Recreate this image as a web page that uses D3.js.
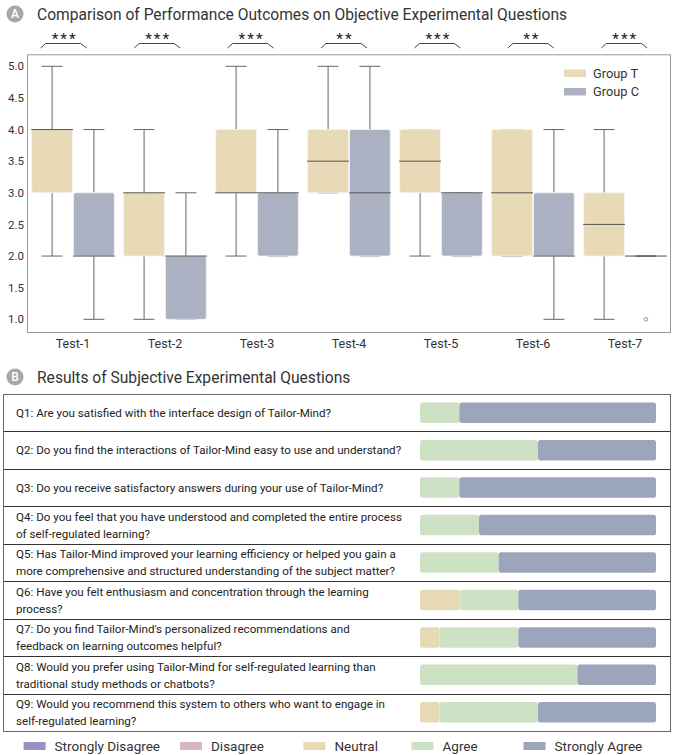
<!DOCTYPE html>
<html>
<head>
<meta charset="utf-8">
<script src="https://cdn.jsdelivr.net/npm/d3@7"></script>
<style>
  body { margin: 0; background: #fff; }
  svg { display: block; font-family: Roboto, "Noto Sans", sans-serif; }
</style>
</head>
<body>
<svg id="chart" width="673" height="755"></svg>
<script>
// ---- Objective questions: scores per test (1–5) ----
const tests = ["Test-1", "Test-2", "Test-3", "Test-4", "Test-5", "Test-6", "Test-7"];
const groups = ["Group T", "Group C"];
// five-number summaries: [lower whisker, Q1, median, Q3, upper whisker]
const groupT = [
  [2, 3, 4, 4, 5],
  [1, 2, 3, 3, 4],
  [2, 3, 3, 4, 5],
  [3, 3, 3.5, 4, 5],
  [2, 3, 3.5, 4, 4],
  [2, 2, 3, 4, 4],
  [1, 2, 2.5, 3, 4]
];
const groupC = [
  [1, 2, 2, 3, 4],
  [1, 1, 2, 2, 3],
  [2, 2, 3, 3, 4],
  [2, 2, 3, 4, 5],
  [2, 2, 3, 3, 3],
  [1, 2, 2, 3, 4],
  [2, 2, 2, 2, 2]
];
const outliersT = [[], [], [], [], [], [], []];
const outliersC = [[], [], [], [], [], [], [1]];
const significance = ["***", "***", "***", "**", "***", "**", "***"];
const yTicks = [1.0, 1.5, 2.0, 2.5, 3.0, 3.5, 4.0, 4.5, 5.0];

// ---- Subjective questions: response counts (12 participants) ----
const questions = [
  ["Q1: Are you satisfied with the interface design of Tailor-Mind?"],
  ["Q2: Do you find the interactions of Tailor-Mind easy to use and understand?"],
  ["Q3: Do you receive satisfactory answers during your use of Tailor-Mind?"],
  ["Q4: Do you feel that you have understood and completed the entire process",
   "of self-regulated learning?"],
  ["Q5: Has Tailor-Mind improved your learning efficiency or helped you gain a",
   "more comprehensive and structured understanding of the subject matter?"],
  ["Q6: Have you felt enthusiasm and concentration through the learning",
   "process?"],
  ["Q7: Do you find Tailor-Mind's personalized recommendations and",
   "feedback on learning outcomes helpful?"],
  ["Q8: Would you prefer using Tailor-Mind for self-regulated learning than",
   "traditional study methods or chatbots?"],
  ["Q9: Would you recommend this system to others who want to engage in",
   "self-regulated learning?"]
];
const responseLevels = ["Strongly Disagree", "Disagree", "Neutral", "Agree", "Strongly Agree"];
const stronglyDisagree = [0, 0, 0, 0, 0, 0, 0, 0, 0];
const disagree         = [0, 0, 0, 0, 0, 0, 0, 0, 0];
const neutral          = [0, 0, 0, 0, 0, 2, 1, 0, 1];
const agree            = [2, 6, 2, 3, 4, 3, 4, 8, 5];
const stronglyAgree    = [10, 6, 10, 9, 8, 7, 7, 4, 6];

// ---- styling ----
const groupColor = { "Group T": "#e8dab6", "Group C": "#abb1c3" };
const levelColor = {
  "Strongly Disagree": "#9b8fc1",
  "Disagree": "#d8b5bc",
  "Neutral": "#e8d9b5",
  "Agree": "#cde2c4",
  "Strongly Agree": "#9ba6bc"
};
const ink = "#333";
const lineGray = "#666";

const svg = d3.select("#chart");

function badge(g, cx, cy, letter) {
  g.append("circle").attr("cx", cx).attr("cy", cy).attr("r", 8.5).attr("fill", "#a8a8a8");
  g.append("text").attr("x", cx).attr("y", cy).attr("dy", "0.36em")
    .attr("text-anchor", "middle").attr("fill", "#fff")
    .attr("font-size", 12).attr("font-weight", 500).text(letter);
}

// ================= Panel A: box plots =================
const A = svg.append("g");
badge(A, 15, 14, "A");
A.append("text").attr("x", 37).attr("y", 14).attr("dy", "0.36em")
  .attr("font-size", 15.6).attr("fill", ink)
  .text("Comparison of Performance Outcomes on Objective Experimental Questions");

const frame = { left: 27, right: 671, top: 54.3, bottom: 332 };
const x = d3.scaleBand().domain(tests).range([frame.left, frame.right]).paddingInner(0).paddingOuter(0);
const xg = d3.scaleBand().domain(groups).range([0, x.bandwidth()]).paddingInner(0).paddingOuter(0.1);
const y = d3.scaleLinear().domain([1, 5]).range([319.3, 66.3]);

// frame
A.append("rect")
  .attr("x", frame.left + 0.5).attr("y", frame.top + 0.5)
  .attr("width", frame.right - frame.left - 1).attr("height", frame.bottom - frame.top)
  .attr("fill", "none").attr("stroke", "#999").attr("stroke-width", 1);

// axes
const yAxis = d3.axisLeft(y).tickValues(yTicks).tickFormat(d3.format(".1f")).tickSize(0).tickPadding(3);
A.append("g").attr("transform", `translate(${frame.left},0)`).call(yAxis)
  .call(g => g.select(".domain").remove())
  .call(g => g.selectAll("text").attr("font-size", 11.5).attr("fill", ink).attr("font-family", "Roboto, sans-serif"));

const xAxis = d3.axisBottom(x).tickSize(0).tickPadding(7);
A.append("g").attr("transform", `translate(0,${frame.bottom})`).call(xAxis)
  .call(g => g.select(".domain").remove())
  .call(g => g.selectAll("text").attr("font-size", 12.5).attr("fill", ink).attr("font-family", "Roboto, sans-serif"));

// boxes
const boxData = [];
tests.forEach((t, i) => {
  boxData.push({ test: t, group: "Group T", s: groupT[i], out: outliersT[i] });
  boxData.push({ test: t, group: "Group C", s: groupC[i], out: outliersC[i] });
});
const bw = xg.bandwidth();
const boxes = A.append("g").selectAll("g").data(boxData).join("g")
  .attr("transform", d => `translate(${x(d.test) + xg(d.group)},0)`);

// whiskers
boxes.append("line")
  .attr("x1", bw / 2).attr("x2", bw / 2)
  .attr("y1", d => y(d.s[3])).attr("y2", d => y(d.s[4]))
  .attr("stroke", lineGray).attr("stroke-width", 1);
boxes.append("line")
  .attr("x1", bw / 2).attr("x2", bw / 2)
  .attr("y1", d => y(d.s[1])).attr("y2", d => y(d.s[0]))
  .attr("stroke", lineGray).attr("stroke-width", 1);
// caps
boxes.selectAll(".cap").data(d => [d.s[0], d.s[4]]).join("line").attr("class", "cap")
  .attr("x1", bw * 0.25).attr("x2", bw * 0.75)
  .attr("y1", v => y(v)).attr("y2", v => y(v))
  .attr("stroke", lineGray).attr("stroke-width", 1);
// box body
boxes.filter(d => d.s[3] > d.s[1]).append("rect")
  .attr("x", 0.5).attr("width", bw - 1)
  .attr("y", d => y(d.s[3])).attr("height", d => y(d.s[1]) - y(d.s[3]))
  .attr("rx", 2)
  .attr("fill", d => groupColor[d.group])
  .attr("stroke", "#f4f4f4").attr("stroke-width", 0.8);
// median
boxes.append("line")
  .attr("x1", 0).attr("x2", bw)
  .attr("y1", d => y(d.s[2])).attr("y2", d => y(d.s[2]))
  .attr("stroke", "#555").attr("stroke-width", 1);
// outliers
boxes.selectAll(".flier").data(d => d.out).join("circle").attr("class", "flier")
  .attr("cx", bw / 2).attr("cy", v => y(v)).attr("r", 1.8)
  .attr("fill", "none").attr("stroke", "#777").attr("stroke-width", 0.8);

// legend (Panel A)
const legA = A.append("g").selectAll("g").data(groups).join("g")
  .attr("transform", (d, i) => `translate(564,${69.5 + i * 18.5})`);
legA.append("rect").attr("width", 22).attr("height", 7.5).attr("fill", d => groupColor[d]);
legA.append("text").attr("x", 29).attr("y", 3.75).attr("dy", "0.36em")
  .attr("font-size", 12.8).attr("fill", ink).text(d => d);

// significance brackets
const xs = d3.scaleBand().domain(tests).range([17, 671]);
const sig = A.append("g").selectAll("g").data(tests).join("g")
  .attr("transform", d => `translate(${xs(d) + xs.bandwidth() / 2},0)`);
sig.append("path")
  .attr("d", "M-23,48L-18,43.5L17,43.5L23,48")
  .attr("fill", "none").attr("stroke", "#444").attr("stroke-width", 1);
sig.append("text")
  .attr("x", 1).attr("y", 44).attr("text-anchor", "middle")
  .attr("font-size", 15.5).attr("letter-spacing", 2).attr("fill", "#222")
  .text((d, i) => significance[i]);

// ================= Panel B: stacked response bars =================
const B = svg.append("g");
badge(B, 15, 377, "B");
B.append("text").attr("x", 37).attr("y", 377).attr("dy", "0.36em")
  .attr("font-size", 15.6).attr("fill", ink)
  .text("Results of Subjective Experimental Questions");

const table = { left: 3.5, right: 671, top: 394, bottom: 731 };
const rows = d3.scaleBand().domain(d3.range(questions.length)).range([table.top, table.bottom]);
const xb = d3.scaleLinear().domain([0, 12]).range([420, 656]);

// row separators
B.append("g").selectAll("line").data(d3.range(1, questions.length)).join("line")
  .attr("x1", table.left).attr("x2", table.right)
  .attr("y1", i => Math.round(rows(i)) + 0.5).attr("y2", i => Math.round(rows(i)) + 0.5)
  .attr("stroke", "#333").attr("stroke-width", 1);
B.append("rect")
  .attr("x", table.left).attr("y", table.top + 0.5)
  .attr("width", table.right - table.left - 0.5).attr("height", table.bottom - table.top)
  .attr("fill", "none").attr("stroke", "#666").attr("stroke-width", 1);

// question text
const qg = B.append("g").selectAll("text").data(questions).join("text")
  .attr("font-size", 11.6).attr("fill", "#222");
qg.each(function (lines, i) {
  const cy = rows(i) + rows.bandwidth() / 2;
  const lh = 17;
  d3.select(this).selectAll("tspan").data(lines).join("tspan")
    .attr("x", 16)
    .attr("y", (l, j) => cy + (j - (lines.length - 1) / 2) * lh)
    .attr("dy", "0.36em")
    .text(l => l);
});

// stacked bars
const counts = {
  "Strongly Disagree": stronglyDisagree,
  "Disagree": disagree,
  "Neutral": neutral,
  "Agree": agree,
  "Strongly Agree": stronglyAgree
};
const table2 = questions.map((q, i) => {
  const o = { idx: i };
  responseLevels.forEach(l => { o[l] = counts[l][i]; });
  return o;
});
const stacked = d3.stack().keys(responseLevels)(table2);
const barH = 20.5;
B.append("g").selectAll("g").data(stacked).join("g")
  .attr("fill", s => levelColor[s.key])
  .selectAll("rect").data(s => s.filter(d => d[1] > d[0])).join("rect")
  .attr("x", d => xb(d[0])).attr("width", d => xb(d[1]) - xb(d[0]))
  .attr("y", d => rows(d.data.idx) + rows.bandwidth() / 2 - barH / 2)
  .attr("height", barH).attr("rx", 2.5);

// legend (Panel B)
const legendX = [23.6, 180, 303.4, 411.5, 523.5];
const legB = B.append("g").selectAll("g").data(responseLevels).join("g")
  .attr("transform", (d, i) => `translate(${legendX[i]},742)`);
legB.append("rect").attr("width", 22).attr("height", 8).attr("fill", d => levelColor[d]);
legB.append("text").attr("x", 31).attr("y", 4).attr("dy", "0.36em")
  .attr("font-size", 13.5).attr("fill", ink).text(d => d);
</script>
</body>
</html>
